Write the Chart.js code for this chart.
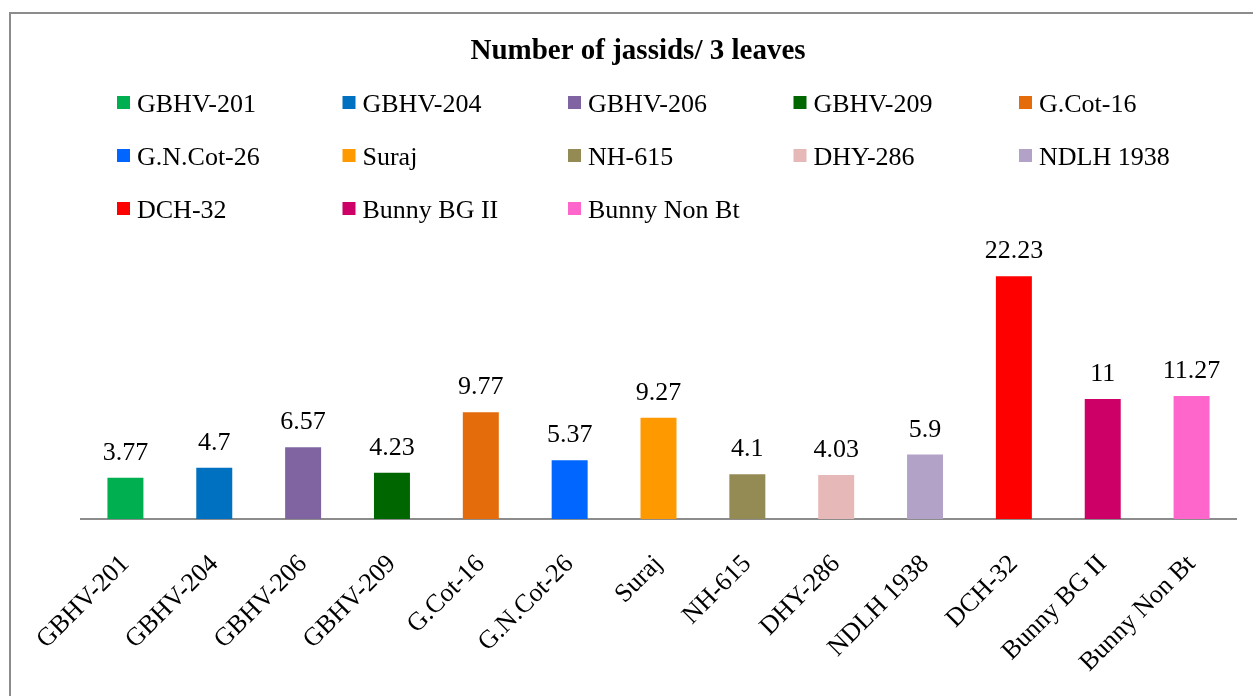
<!DOCTYPE html>
<html>
<head>
<meta charset="utf-8">
<script src="https://cdn.jsdelivr.net/npm/chart.js@4.4.1/dist/chart.umd.min.js"></script>
<style>
    html, body { margin: 0; padding: 0; background: #fff; overflow: hidden; }
    #frame { position: absolute; left: 9px; top: 12px; width: 1400px; height: 900px; border: 2px solid #8c8c8c; }
    #wrap { position: absolute; left: 0; top: 0; width: 1253px; height: 696px; }
</style>
</head>
<body>
<div id="frame"></div>
<div id="wrap"><canvas id="jassidChart"></canvas></div>
<script>
// Genotypes (x categories and legend entries)
const categories = ['GBHV-201', 'GBHV-204', 'GBHV-206', 'GBHV-209', 'G.Cot-16', 'G.N.Cot-26',
    'Suraj', 'NH-615', 'DHY-286', 'NDLH 1938', 'DCH-32', 'Bunny BG II', 'Bunny Non Bt'];

// Number of jassids per 3 leaves
const jassids = [3.77, 4.7, 6.57, 4.23, 9.77, 5.37, 9.27, 4.1, 4.03, 5.9, 22.23, 11, 11.27];

const barColors = ['#00B050', '#0070C0', '#8064A2', '#006600', '#E46C0A', '#0066FF',
    '#FF9900', '#948A54', '#E6B9B8', '#B3A2C7', '#FF0000', '#CC0066', '#FF66CC'];

const serif = "'Liberation Serif', 'Times New Roman', serif";

// Value labels above each bar
const valueLabels = {
    id: 'valueLabels',
    afterDatasetsDraw(chart) {
        const ctx = chart.ctx;
        const meta = chart.getDatasetMeta(0);
        ctx.save();
        ctx.font = '26px ' + serif;
        ctx.fillStyle = '#000';
        ctx.textAlign = 'center';
        ctx.textBaseline = 'alphabetic';
        meta.data.forEach((bar, i) => {
            ctx.fillText(String(jassids[i]), bar.x, bar.y - 18);
        });
        ctx.restore();
    }
};

// Legend laid out as a 5-column grid (like the spreadsheet legend)
const gridLegend = {
    id: 'gridLegend',
    afterDraw(chart) {
        const ctx = chart.ctx;
        ctx.save();
        ctx.font = '26px ' + serif;
        ctx.textBaseline = 'middle';
        ctx.textAlign = 'left';
        categories.forEach((name, i) => {
            const col = i % 5;
            const row = Math.floor(i / 5);
            const x = 117 + col * 225.5;
            const y = 105.5 + row * 53;
            ctx.fillStyle = barColors[i];
            ctx.fillRect(x, y - 9.5, 13, 13);
            ctx.fillStyle = '#000';
            ctx.fillText(name, x + 20, y);
        });
        ctx.restore();
    }
};

new Chart(document.getElementById('jassidChart'), {
    type: 'bar',
    data: {
        labels: categories,
        datasets: [{
            label: 'Number of jassids/ 3 leaves',
            data: jassids,
            backgroundColor: barColors,
            borderWidth: 0,
            categoryPercentage: 1,
            barPercentage: 0.405
        }]
    },
    options: {
        responsive: true,
        maintainAspectRatio: false,
        animation: false,
        layout: { padding: { left: 40, right: 17, top: 0, bottom: 0 } },
        plugins: {
            legend: { display: false },
            tooltip: { enabled: false },
            title: {
                display: true,
                text: 'Number of jassids/ 3 leaves',
                color: '#000',
                font: { family: serif, size: 29, weight: 'bold' },
                padding: { top: 34.6, bottom: 176.6 }
            }
        },
        scales: {
            x: {
                grid: { display: false },
                border: { display: true, color: '#8c8c8c', width: 2 },
                ticks: {
                    color: '#000',
                    font: { family: serif, size: 26 },
                    minRotation: 45,
                    maxRotation: 45,
                    padding: 22,
                    autoSkip: false
                },
                afterFit(scale) { scale.height = 177; }
            },
            y: {
                min: 0,
                max: 25,
                grid: { display: false },
                border: { display: false },
                ticks: { display: false },
                afterFit(scale) { scale.width = 41; }
            }
        }
    },
    plugins: [valueLabels, gridLegend]
});
</script>
</body>
</html>
